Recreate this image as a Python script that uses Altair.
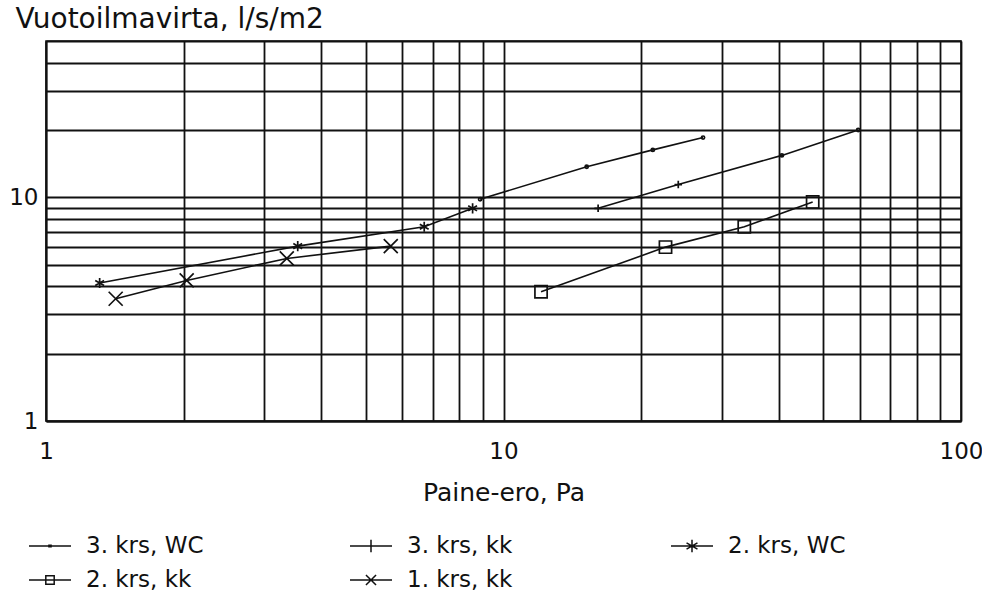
import altair as alt
import pandas as pd

# ---- data ----
series_names = ["3. krs, WC", "3. krs, kk", "2. krs, WC", "2. krs, kk", "1. krs, kk"]

x_3wc = [8.89, 15.2, 21.2, 27.3]
y_3wc = [9.8, 13.7, 16.3, 18.5]
m_3wc = ["dot", "dot", "dot", "dot"]

x_3kk = [16.1, 24.1, 40.6, 59.6]
y_3kk = [8.93, 11.4, 15.4, 20.0]
m_3kk = ["plus", "plus", "dot", "dot"]

x_2wc = [1.31, 3.55, 6.71, 8.56]
y_2wc = [4.14, 6.05, 7.39, 8.93]
m_2wc = ["star", "star", "star", "star"]

x_2kk = [12.08, 22.6, 33.6, 47.4]
y_2kk = [3.78, 5.99, 7.39, 9.53]
m_2kk = ["square", "square", "square", "square"]

x_1kk = [1.42, 2.03, 3.36, 5.67]
y_1kk = [3.52, 4.25, 5.33, 6.05]
m_1kk = ["cross", "cross", "cross", "cross"]

x_ticks = [1, 2, 3, 4, 5, 6, 7, 8, 9, 10, 20, 30, 40, 50, 60, 70, 80, 90, 100]
y_ticks = [1, 2, 3, 4, 5, 6, 7, 8, 9, 10, 20, 30, 40, 50]

rows = []
for name, xs, ys, ms in zip(series_names,
                            [x_3wc, x_3kk, x_2wc, x_2kk, x_1kk],
                            [y_3wc, y_3kk, y_2wc, y_2kk, y_1kk],
                            [m_3wc, m_3kk, m_2wc, m_2kk, m_1kk]):
    for xv, yv, mv in zip(xs, ys, ms):
        rows.append({"series": name, "x": xv, "y": yv, "sym": mv})
df = pd.DataFrame(rows)

FONT = "DejaVu Sans"
INK = "#111111"

# marker shapes (plot)
sym_domain = ["dot", "plus", "star", "square", "cross"]
sym_range = [
    "circle",
    "M-1,0H1M0,-1V1",
    "M0,-1V1M-0.87,-0.5L0.87,0.5M-0.87,0.5L0.87,-0.5",
    "square",
    "M-1,-1L1,1M-1,1L1,-1",
]
sym_size = [10, 196, 196, 100, 110]

# legend glyphs: line with marker
leg_range = [
    "M-1,0H1M-0.05,-0.04H0.05V0.04H-0.05Z",
    "M-1,0H1M0,-0.3V0.3",
    "M-1,0H1M0,-0.3V0.3M-0.26,-0.15L0.26,0.15M-0.26,0.15L0.26,-0.15",
    "M-1,0H1M-0.2,-0.2H0.2V0.2H-0.2Z",
    "M-1,0H1M-0.24,-0.24L0.24,0.24M-0.24,0.24L0.24,-0.24",
]

xscale = alt.Scale(type="log", domain=[1, 100], nice=False)
yscale = alt.Scale(type="log", domain=[1, 50], nice=False)

xaxis = alt.Axis(
    values=x_ticks,
    labelExpr="(datum.value == 1 || datum.value == 10 || datum.value == 100) ? format(datum.value, 'd') : ''",
    title="Paine-ero, Pa",
    grid=True, ticks=False, labelPadding=19,
    labelFontSize=23, titleFontSize=25, labelFont=FONT, titleFont=FONT,
    titleFontWeight="normal", labelColor=INK, titleColor=INK,
    titleBaseline="alphabetic", titleY=79,
    labelOverlap=False, labelFlush=False,
)
yaxis = alt.Axis(
    values=y_ticks,
    labelExpr="(datum.value == 1 || datum.value == 10) ? format(datum.value, 'd') : ''",
    title="Vuotoilmavirta, l/s/m2",
    grid=True, ticks=False, labelPadding=8,
    labelFontSize=23, titleFontSize=28, labelFont=FONT, titleFont=FONT,
    titleFontWeight="normal", labelColor=INK, titleColor=INK,
    titleAngle=0, titleAlign="left", titleBaseline="alphabetic",
    titleX=-31, titleY=-14, labelOverlap=False, labelFlush=False,
)

base = alt.Chart(df)

lines = base.mark_line(color=INK, strokeWidth=1.6).encode(
    x=alt.X("x:Q", scale=xscale, axis=xaxis),
    y=alt.Y("y:Q", scale=yscale, axis=yaxis),
    detail="series:N",
    order="x:Q",
)

points = base.mark_point(filled=False, color=INK, strokeWidth=1.7, opacity=1).encode(
    x=alt.X("x:Q", scale=xscale),
    y=alt.Y("y:Q", scale=yscale),
    shape=alt.Shape("sym:N", scale=alt.Scale(domain=sym_domain, range=sym_range), legend=None),
    size=alt.Size("sym:N", scale=alt.Scale(domain=sym_domain, range=sym_size), legend=None),
)

legend_layer = base.mark_point(filled=False, color=INK, opacity=0).encode(
    x=alt.X("x:Q", scale=xscale),
    y=alt.Y("y:Q", scale=yscale),
    shape=alt.Shape(
        "series:N",
        scale=alt.Scale(domain=series_names, range=leg_range),
        legend=alt.Legend(
            title=None, orient="none", legendX=-18, legendY=483,
            direction="horizontal", columns=3, columnPadding=143, rowPadding=-6,
            symbolSize=1764, symbolStrokeWidth=1.5, symbolStrokeColor=INK,
            symbolFillColor="transparent", symbolOpacity=1,
            labelFont=FONT, labelFontSize=23, labelColor=INK, labelOffset=14,
            gridAlign="all", padding=0,
        ),
    ),
)

chart = (
    alt.layer(lines, points, legend_layer)
    .resolve_scale(shape="independent", size="independent")
    .properties(
        width=915, height=380,
        autosize=alt.AutoSizeParams(type="none"),
        padding={"left": 46, "top": 41, "right": 21, "bottom": 173},
        background="white",
    )
    .configure_view(stroke=INK, strokeWidth=1.6)
    .configure_axis(gridColor=INK, gridWidth=1.8, gridOpacity=1,
                    domainColor=INK, domainWidth=1.8)
)

chart.save("out.html", embed_options={"renderer": "svg", "actions": False})
